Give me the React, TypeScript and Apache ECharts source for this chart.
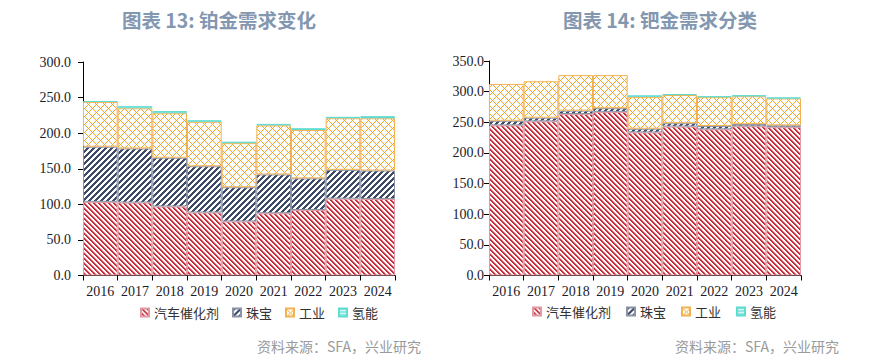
import React, { useEffect, useRef } from "react";
import * as echarts from "echarts";

const years = ["2016", "2017", "2018", "2019", "2020", "2021", "2022", "2023", "2024"];
const seriesNames = ["汽车催化剂", "珠宝", "工业", "氢能"];

// 图表 13: 铂金需求变化
const ptAuto = [103.5, 102.5, 97, 88.5, 76, 87.5, 92, 108, 107.5];
const ptJewelry = [77.5, 76, 68.5, 65, 48, 54.5, 44.5, 40.5, 40];
const ptIndustrial = [63, 56.5, 62.5, 62.5, 62, 69, 68, 72.5, 73.5];
const ptHydrogen = [1, 3, 3, 2, 2, 2, 2.5, 2, 3];

// 图表 14: 钯金需求分类
const pdAuto = [245, 251.5, 263.5, 267, 233.5, 243, 238.5, 243.5, 242];
const pdJewelry = [7.5, 6, 5.5, 6, 6, 5.5, 5.5, 3.5, 3];
const pdIndustrial = [60, 59.5, 58, 54, 52, 46, 47, 45.5, 44];
const pdHydrogen = [0, 0, 0, 0, 2.5, 1.5, 1.5, 1.5, 1.5];

const leftTicks = { min: 0, max: 300, interval: 50 };
const rightTicks = { min: 0, max: 350, interval: 50 };

const titles = ["图表 13: 铂金需求变化", "图表 14: 钯金需求分类"];
const sourceText = "资料来源：SFA，兴业研究";

function makePattern(size: number, bg: string, colorAt: (x: number, y: number) => string | null) {
  const c = document.createElement("canvas");
  c.width = size;
  c.height = size;
  const ctx = c.getContext("2d")!;
  ctx.fillStyle = bg;
  ctx.fillRect(0, 0, size, size);
  for (let y = 0; y < size; y++) {
    for (let x = 0; x < size; x++) {
      const col = colorAt(x, y);
      if (col) {
        ctx.fillStyle = col;
        ctx.fillRect(x, y, 1, 1);
      }
    }
  }
  return { image: c, repeat: "repeat", imageWidth: size, imageHeight: size } as any;
}

export default function App() {
  const ref = useRef<HTMLDivElement>(null);
  useEffect(() => {
    if (!ref.current) return;
    const chart = echarts.init(ref.current, null, { renderer: "svg" });

    const redPat = makePattern(5, "#ffffff", (x, y) => {
      const d = (x - y + 10) % 5;
      if (d === 0 || d === 1) return "#c5303f";
      if (d === 2) return "#e8a3ab";
      return null;
    });
    const navyPat = makePattern(6, "#ffffff", (x, y) => {
      const d = (x + y) % 6;
      if (d === 0 || d === 1 || d === 2) return "#3d4a68";
      return null;
    });
    const orangePat = makePattern(8, "#ffffff", (x, y) => {
      return (x - y + 16) % 8 === 0 || (x + y) % 8 === 0 ? "#f3a31f" : null;
    });
    const cyanPat = makePattern(3, "#d8f7f4", (_x, y) => (y === 0 ? "#49d5ca" : null));

    const styles = [
      { color: redPat, borderColor: "#e19aa3" },
      { color: navyPat, borderColor: "#8a93a6" },
      { color: orangePat, borderColor: "#f2b152" },
      { color: cyanPat, borderColor: "#5fdcd2" },
    ];

    const leftData = [ptAuto, ptJewelry, ptIndustrial, ptHydrogen];
    const rightData = [pdAuto, pdJewelry, pdIndustrial, pdHydrogen];

    const axisFont = { fontFamily: "Liberation Serif", fontSize: 14, color: "#1b1b2a" };

    const makeSeries = (data: number[][], idx: number, stack: string) =>
      data.map((arr, i) => ({
        name: seriesNames[i],
        type: "bar",
        stack,
        xAxisIndex: idx,
        yAxisIndex: idx,
        barCategoryGap: "0%",
        data: arr.map((v) => (v === 0 ? null : v)),
        itemStyle: { color: styles[i].color, borderColor: styles[i].borderColor, borderWidth: 1 },
        emphasis: { disabled: true },
      }));

    const xAxisBase = (gridIndex: number) => ({
      type: "category",
      gridIndex,
      data: years,
      boundaryGap: true,
      axisLine: { show: true, lineStyle: { color: "#000", width: 1 } },
      axisTick: { show: true, length: 5, lineStyle: { color: "#000" } },
      axisLabel: { ...axisFont, margin: 9, interval: 0 },
      splitLine: { show: false },
    });

    const yAxisBase = (gridIndex: number, t: any, margin: number) => ({
      type: "value",
      gridIndex,
      min: t.min,
      max: t.max,
      interval: t.interval,
      axisLine: { show: true, lineStyle: { color: "#000", width: 1 } },
      axisTick: { show: true, length: 5, lineStyle: { color: "#000" } },
      axisLabel: { ...axisFont, margin, formatter: (v: number) => v.toFixed(1) },
      splitLine: { show: false },
    });

    const legendBase = {
      data: seriesNames,
      icon: "rect",
      itemWidth: 8,
      itemHeight: 8,
      orient: "horizontal",
      selectedMode: false,
      textStyle: { fontFamily: "Noto Sans CJK SC", fontSize: 13, color: "#333" },
      padding: 0,
    };

    const titleStyle = { fontFamily: "Noto Sans CJK SC", fontSize: 19.5, fontWeight: "bold", color: "#8397b0" };

    chart.setOption({
      animation: false,
      backgroundColor: "#fff",
      title: [
        { text: titles[0], left: 219, top: 10, textAlign: "center", padding: 0, textStyle: titleStyle },
        { text: titles[1], left: 660, top: 10, textAlign: "center", padding: 0, textStyle: titleStyle },
      ],
      grid: [
        { left: 83, width: 312, top: 62, height: 213.5 },
        { left: 489, width: 312, top: 61, height: 214.5 },
      ],
      xAxis: [xAxisBase(0), xAxisBase(1)],
      yAxis: [yAxisBase(0, leftTicks, 12), yAxisBase(1, rightTicks, 5)],
      legend: [
        { ...legendBase, left: 140, top: 306, itemGap: 13 },
        { ...legendBase, left: 532, top: 305, itemGap: 15 },
      ],
      graphic: [
        {
          type: "text",
          left: 257,
          top: 339,
          style: { text: sourceText, fill: "#9a9a9a", fontSize: 14, fontFamily: "Noto Sans CJK SC" },
        },
        {
          type: "text",
          left: 675,
          top: 339,
          style: { text: sourceText, fill: "#9a9a9a", fontSize: 14, fontFamily: "Noto Sans CJK SC" },
        },
      ],
      series: [...makeSeries(leftData, 0, "pt"), ...makeSeries(rightData, 1, "pd")],
    });

    return () => chart.dispose();
  }, []);

  return <div ref={ref} style={{ position: "absolute", left: 0, top: 0, width: 877, height: 361 }} />;
}
